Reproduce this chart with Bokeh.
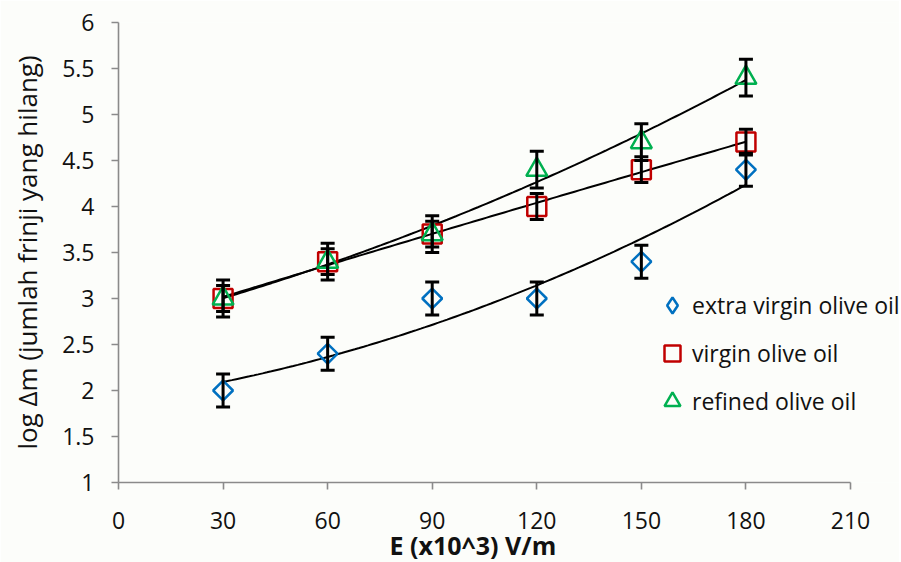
import numpy as np
from bokeh.plotting import figure
from bokeh.models import (ColumnDataSource, Whisker, TeeHead, FixedTicker, Range1d,
                          Legend, LegendItem, Title)
from bokeh.embed import file_html
from bokeh.resources import INLINE

# ---- data ----
e_field = [30, 60, 90, 120, 150, 180]
extra_virgin = [2.0, 2.4, 3.0, 3.0, 3.4, 4.4]
virgin = [3.0, 3.4, 3.7, 4.0, 4.4, 4.7]
refined = [3.0, 3.4, 3.7, 4.4, 4.7, 5.4]
extra_err = [0.18, 0.18, 0.18, 0.18, 0.18, 0.18]
virgin_err = [0.14, 0.14, 0.14, 0.14, 0.14, 0.14]
refined_err = [0.2, 0.2, 0.2, 0.2, 0.2, 0.2]
x_ticks = [0, 30, 60, 90, 120, 150, 180, 210]
y_ticks = [1, 1.5, 2, 2.5, 3, 3.5, 4, 4.5, 5, 5.5, 6]
labels = ["extra virgin olive oil", "virgin olive oil", "refined olive oil"]

FONT = "Open Sans"
W, H = 899, 562
LEFT, RIGHT, TOP, BOTTOM = 118, 0, 22, 80
px_per_unit = 732 / 210.0          # axis 0..210 spans 732 px
x_end = (W - LEFT - RIGHT) / px_per_unit

p = figure(width=W, height=H, output_backend="svg", toolbar_location=None,
           x_range=Range1d(0, x_end), y_range=Range1d(1, 6),
           min_border_left=LEFT, min_border_right=RIGHT,
           min_border_top=TOP, min_border_bottom=BOTTOM)
p.background_fill_color = "#fcfdfa"
p.border_fill_color = "#fcfdfa"
p.outline_line_color = None
p.grid.visible = False

for ax in (p.xaxis[0], p.yaxis[0]):
    ax.axis_line_color = "#8a8a8a"
    ax.axis_line_width = 1.6
    ax.major_tick_line_color = "#8a8a8a"
    ax.major_tick_line_width = 1.6
    ax.major_tick_out = 7
    ax.major_tick_in = 0
    ax.minor_tick_line_color = None
    ax.major_label_text_font = FONT
    ax.major_label_text_font_size = "23px"
    ax.major_label_text_color = "#111111"

p.xaxis[0].ticker = FixedTicker(ticks=x_ticks)
p.xaxis[0].bounds = (0, 210)
p.xaxis[0].major_label_standoff = 22

p.add_layout(Title(text="E (x10^3) V/m", align="left", offset=271, standoff=-12,
                   text_font=FONT, text_font_size="25px", text_font_style="bold",
                   text_color="#111111"), "below")

p.yaxis[0].ticker = FixedTicker(ticks=y_ticks)
p.yaxis[0].bounds = (1, 6)
p.yaxis[0].major_label_standoff = 17
p.yaxis[0].axis_label = "log Δm (jumlah frinji yang hilang)"
p.yaxis[0].axis_label_text_font = FONT
p.yaxis[0].axis_label_text_font_size = "26px"
p.yaxis[0].axis_label_text_font_style = "normal"
p.yaxis[0].axis_label_text_color = "#111111"
p.yaxis[0].axis_label_standoff = 14

series = [
    (extra_virgin, extra_err, "#0070C0", "square", np.pi / 4, 14),
    (virgin, virgin_err, "#C00000", "square", 0, 19),
    (refined, refined_err, "#00B050", "triangle", 0, 21),
]
legend_markers = ["diamond", "square", "triangle"]

# trend lines (2nd order polynomial fit of each series)
xs = np.linspace(e_field[0], e_field[-1], 120)
for ys, err, col, mk, ang, sz in series:
    coef = np.polyfit(e_field, ys, 2)
    p.line(xs, np.polyval(coef, xs), line_color="black", line_width=2)

items = []
for (ys, err, col, mk, ang, sz), lab, lmk in zip(series, labels, legend_markers):
    src = ColumnDataSource(dict(x=e_field, y=ys,
                                upper=[a + b for a, b in zip(ys, err)],
                                lower=[a - b for a, b in zip(ys, err)]))
    p.scatter("x", "y", source=src, marker=mk, angle=ang, size=sz,
              fill_color=None, line_color=col, line_width=2.5)
    # legend-only renderer (NaN point, never drawn in the plot) for the key symbol
    lr = p.scatter(x=[np.nan], y=[np.nan], marker=lmk, fill_color=None,
                   line_color=col, line_width=2.5)
    items.append(LegendItem(label=lab, renderers=[lr]))
    w = Whisker(source=src, base="x", upper="upper", lower="lower",
                line_color="black", line_width=3, level="overlay",
                upper_head=TeeHead(size=14, line_color="black", line_width=3),
                lower_head=TeeHead(size=14, line_color="black", line_width=3))
    p.add_layout(w)

legend = Legend(items=items, location=(534, 61), orientation="vertical",
                border_line_color=None, background_fill_alpha=0,
                label_text_font=FONT, label_text_font_size="23px",
                label_text_color="#111111",
                glyph_width=40, glyph_height=40, label_height=40,
                spacing=8, padding=0, margin=0, label_standoff=0)
p.add_layout(legend, "center")

open("out.html", "w").write(file_html(p, INLINE))
